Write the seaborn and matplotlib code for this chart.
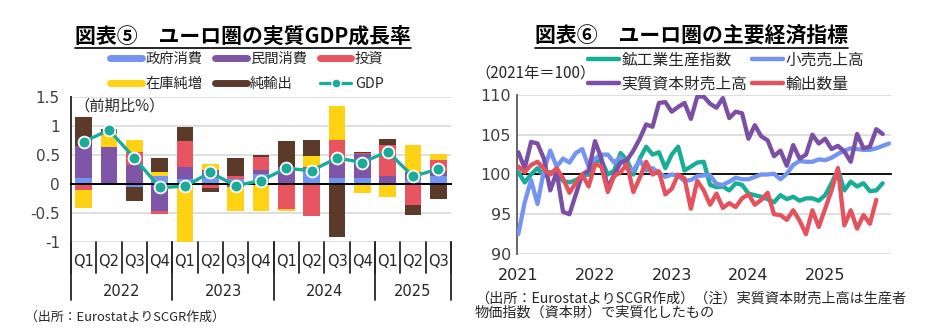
import numpy as np
import pandas as pd
import matplotlib
matplotlib.use("Agg")
import matplotlib.pyplot as plt
import seaborn as sns
from matplotlib.lines import Line2D
from matplotlib.transforms import blended_transform_factory
from matplotlib.ticker import FuncFormatter

# ---------------- data: left chart (contributions, % q/q) ----------------
quarter_labels = ["Q1", "Q2", "Q3", "Q4", "Q1", "Q2", "Q3", "Q4",
                  "Q1", "Q2", "Q3", "Q4", "Q1", "Q2", "Q3"]
year_labels = ["2022", "2023", "2024", "2025"]
quarters_per_year = [4, 4, 4, 3]
gov_cons = [0.10, 0.00, -0.05, 0.13, 0.09, 0.10, 0.09, 0.18, 0.00, 0.20, 0.10, 0.10, 0.00, 0.075, 0.13]
priv_cons = [0.56, 0.64, 0.32, -0.47, 0.21, 0.14, -0.05, 0.07, 0.30, 0.10, 0.27, 0.42, 0.14, 0.125, 0.10]
investment = [-0.10, 0.00, 0.24, -0.05, 0.45, -0.07, 0.05, 0.21, -0.43, -0.55, 0.39, 0.02, 0.54, -0.37, 0.19]
inventories = [-0.32, 0.24, 0.20, 0.07, -1.02, 0.10, -0.41, -0.47, -0.04, 0.19, 0.59, -0.16, -0.23, 0.48, 0.09]
net_exports = [0.49, 0.06, -0.24, 0.25, 0.23, -0.07, 0.30, 0.04, 0.44, 0.27, -0.91, 0.01, 0.10, -0.17, -0.26]
gdp = [0.73, 0.93, 0.45, -0.06, -0.04, 0.20, -0.03, 0.06, 0.27, 0.23, 0.45, 0.37, 0.56, 0.13, 0.26]

comp_names = ["政府消費", "民間消費", "投資", "在庫純増", "純輸出"]
comp_colors = ["#7394f0", "#7f55a8", "#e8545f", "#ffd214", "#5c3a29"]
gdp_color = "#1aab9b"

# ---------------- data: right chart (2021 = 100, monthly from Jan 2021) ----------------
year_ticks = ["2021", "2022", "2023", "2024", "2025"]
industrial_prod = [100.3, 99.0, 100.0, 100.8, 99.8, 100.3, 100.0, 99.2, 99.0, 99.3, 99.8, 100.0,
                   101.5, 101.8, 100.0, 100.5, 102.7, 101.8, 100.0, 102.0, 103.5, 102.5, 102.8, 100.8,
                   102.5, 103.5, 100.5, 101.0, 101.5, 101.6, 98.7, 98.4, 98.5, 98.0, 98.9, 98.7,
                   97.6, 97.4, 97.2, 96.9, 96.5, 97.4, 96.9, 97.2, 96.7, 97.0, 97.0, 96.7,
                   97.4, 98.9, 100.6, 98.0, 99.1, 98.5, 98.9, 97.9, 98.0, 98.9]
retail_sales = [92.5, 96.5, 99.3, 96.3, 100.5, 103.0, 101.0, 102.0, 101.5, 102.7, 103.2, 101.0,
                102.0, 102.5, 102.5, 101.5, 102.2, 100.8, 100.5, 101.8, 100.5, 100.8, 100.2, 99.7,
                100.0, 99.8, 99.2, 99.3, 99.8, 99.9, 99.9, 98.8, 98.7, 99.1, 99.6, 99.4,
                99.4, 99.7, 100.0, 100.0, 100.1, 99.4, 100.1, 101.2, 101.7, 101.6, 101.6, 101.9,
                101.8, 102.1, 102.6, 103.0, 103.3, 103.2, 103.1, 103.1, 103.3, 103.6, 103.9]
capital_goods = [102.8, 100.8, 104.1, 103.9, 102.0, 98.0, 100.3, 95.3, 95.0, 97.5, 100.0, 100.5,
                 104.2, 102.0, 98.3, 100.0, 101.5, 101.8, 103.0, 104.5, 106.3, 106.0, 109.0, 109.1,
                 107.9, 108.5, 109.0, 107.0, 109.8, 109.8, 108.9, 108.4, 109.6, 107.1, 107.9, 107.7,
                 104.5, 106.2, 104.8, 104.3, 102.3, 103.0, 101.1, 103.7, 102.0, 102.5, 105.0, 103.9,
                 104.5, 103.2, 103.6, 102.9, 101.6, 105.1, 103.3, 103.5, 105.7, 105.1]
export_volume = [101.0, 100.3, 101.2, 101.6, 100.7, 100.0, 100.8, 99.5, 97.7, 99.0, 100.0, 98.5,
                 101.3, 101.0, 97.8, 99.8, 100.3, 101.3, 97.8, 99.6, 101.6, 100.0, 100.4, 97.5,
                 98.2, 100.0, 99.5, 95.7, 99.2, 98.0, 96.2, 97.6, 95.8, 96.4, 95.9, 97.0,
                 97.5, 96.2, 96.8, 97.7, 95.0, 94.9, 94.3, 95.5, 94.2, 92.5, 95.5, 93.4,
                 95.7, 98.0, 100.8, 93.6, 95.5, 93.2, 94.9, 93.8, 96.8]

series_names = ["鉱工業生産指数", "小売売上高", "実質資本財売上高", "輸出数量"]
series_values = [industrial_prod, retail_sales, capital_goods, export_volume]
series_colors = ["#19ad98", "#7394f0", "#7b4fa6", "#e3525d"]

# ---------------- style ----------------
sns.set_style("white")
plt.rcParams["font.family"] = ["Noto Sans CJK JP", "DejaVu Sans"]
plt.rcParams["axes.unicode_minus"] = False

W, H = 950, 328
fig = plt.figure(figsize=(W / 100, H / 100), dpi=100)


def fx(px):
    return px / W


def fy(py):
    return 1 - py / H


txt_col = "#262626"
grid_col = "#d9d9d9"

# ================= LEFT CHART =================
axL = fig.add_axes([fx(71), fy(242), fx(451) - fx(71), fy(97) - fy(242)])
n = len(gdp)
x = np.arange(n)
comps = [np.array(c, dtype=float) for c in (gov_cons, priv_cons, investment, inventories, net_exports)]
pos_base = np.zeros(n)
neg_base = np.zeros(n)
for vals, col in zip(comps, comp_colors):
    pos = np.where(vals > 0, vals, 0.0)
    neg = np.where(vals < 0, vals, 0.0)
    axL.bar(x, pos, bottom=pos_base, width=0.66, color=col, zorder=2, linewidth=0)
    axL.bar(x, neg, bottom=neg_base, width=0.66, color=col, zorder=2, linewidth=0)
    pos_base += pos
    neg_base += neg

df_gdp = pd.DataFrame({"q": x, "gdp": gdp})
sns.lineplot(data=df_gdp, x="q", y="gdp", ax=axL, color=gdp_color, lw=2.4, zorder=4,
             marker="o", markersize=8.5, markerfacecolor=gdp_color, markeredgecolor="white",
             markeredgewidth=1.3)

axL.set_xlim(-0.5, n - 0.5)
axL.set_ylim(-1, 1.5)
axL.set_yticks([-1, -0.5, 0, 0.5, 1, 1.5])
axL.yaxis.set_major_formatter(FuncFormatter(lambda v, p: f"{v:g}"))
axL.grid(axis="y", color=grid_col, lw=1.2)
axL.grid(axis="x", visible=False)
axL.set_axisbelow(True)
axL.set_xlabel("")
axL.set_ylabel("")
for s in ("top", "right"):
    axL.spines[s].set_visible(False)
axL.spines["left"].set_color("#333333")
axL.spines["left"].set_linewidth(1.4)
axL.spines["bottom"].set_position(("data", 0))
axL.spines["bottom"].set_color("black")
axL.spines["bottom"].set_linewidth(1.4)
axL.spines["bottom"].set_zorder(3)
axL.set_xticks(np.arange(0.5, n - 0.5, 1.0))
axL.tick_params(axis="x", direction="in", length=5, width=1.3, color="black", labelbottom=False)
axL.tick_params(axis="y", direction="out", length=4, width=1.2, color="#333333",
                labelsize=11, labelcolor="#404040", labelfontfamily="DejaVu Sans", pad=4)

trL = blended_transform_factory(axL.transData, axL.transAxes)
qh = -(273 - 242) / 145
yh = -(300 - 242) / 145
for b in np.arange(-0.5, n, 1.0):
    axL.plot([b, b], [0, qh], transform=trL, color="#262626", lw=1.3, clip_on=False)
for i, q in enumerate(quarter_labels):
    axL.text(i, -(262 - 242) / 145, q, transform=trL, ha="center", va="center",
             fontsize=10.5, color=txt_col, family="DejaVu Sans")
start = 0
for yl, cnt in zip(year_labels, quarters_per_year):
    axL.plot([start - 0.5, start - 0.5], [0, yh], transform=trL, color="#262626", lw=1.3, clip_on=False)
    axL.text(start + cnt / 2 - 0.5, -(291 - 242) / 145, yl, transform=trL, ha="center", va="center",
             fontsize=10.5, color=txt_col, family="DejaVu Sans")
    start += cnt
axL.plot([n - 0.5, n - 0.5], [0, yh], transform=trL, color="#262626", lw=1.3, clip_on=False)

axL.text(0.01, 0.935, "（前期比%）", transform=axL.transAxes, ha="left", va="center",
         fontsize=11, color=txt_col)

handlesL = [Line2D([0], [0], color=c, lw=5) for c in comp_colors]
handlesL.append(Line2D([0], [0], color=gdp_color, lw=2.4, marker="o", markersize=6.5,
                       markerfacecolor=gdp_color, markeredgecolor="white", markeredgewidth=1.0))
labelsL = comp_names + ["GDP"]
order = [0, 3, 1, 4, 2, 5]
fig.legend([handlesL[i] for i in order], [labelsL[i] for i in order], ncol=3, frameon=False,
           loc="center", bbox_to_anchor=(fx(247), fy(71.5)), fontsize=10.3,
           handlelength=2.2, handletextpad=0.25, columnspacing=0.9, labelspacing=0.78,
           borderpad=0, labelcolor=txt_col)

titleL = fig.text(fx(243), fy(36), "図表⑤　ユーロ圏の実質GDP成長率", ha="center", va="center",
                  fontsize=15, fontweight="bold", color="black",
                  family=["Noto Sans CJK JP", "DejaVu Sans"])
fig.text(fx(25), fy(317), "（出所：EurostatよりSCGR作成）", ha="left", va="center",
         fontsize=9.3, color=txt_col)

# ================= RIGHT CHART =================
axR = fig.add_axes([fx(516.7), fy(254), fx(891) - fx(516.7), fy(95) - fy(254)])
for name, vals, col in zip(series_names, series_values, series_colors):
    dfm = pd.DataFrame({"m": np.arange(len(vals)), "v": vals})
    sns.lineplot(data=dfm, x="m", y="v", ax=axR, color=col, lw=3.1, zorder=3)
axR.set_xlim(-0.25, 58.3)
axR.set_ylim(90, 110)
axR.set_yticks([90, 95, 100, 105, 110])
axR.grid(axis="y", color=grid_col, lw=1.2)
axR.grid(axis="x", visible=False)
axR.set_axisbelow(True)
axR.set_xlabel("")
axR.set_ylabel("")
for s in ("top", "right"):
    axR.spines[s].set_visible(False)
axR.spines["left"].set_color("#595959")
axR.spines["left"].set_linewidth(1.3)
axR.spines["bottom"].set_position(("data", 100))
axR.spines["bottom"].set_color("black")
axR.spines["bottom"].set_linewidth(1.3)
axR.spines["bottom"].set_zorder(2)
axR.set_xticks([11.5, 23.5, 35.5, 47.5])
axR.tick_params(axis="x", direction="in", length=5, width=1.2, color="black", labelbottom=False)
axR.tick_params(axis="y", length=0, labelsize=11.5, labelcolor="#404040",
                labelfontfamily="DejaVu Sans", pad=4)
trR = blended_transform_factory(axR.transData, axR.transAxes)
for i, yl in enumerate(year_ticks):
    axR.text(i * 12, -(276 - 254) / 159, yl, transform=trR, ha="center", va="center",
             fontsize=11.5, color=txt_col, family="DejaVu Sans")

handlesR = [Line2D([0], [0], color=c, lw=3.2) for c in series_colors]
orderR = [0, 2, 1, 3]
fig.legend([handlesR[i] for i in orderR], [series_names[i] for i in orderR], ncol=2, frameon=False,
           loc="center", bbox_to_anchor=(fx(726), fy(72)), fontsize=11.3,
           handlelength=2.0, handletextpad=0.15, columnspacing=0.3, labelspacing=0.48,
           borderpad=0, labelcolor=txt_col)

fig.text(fx(475), fy(73), "（2021年＝100）", ha="left", va="center", fontsize=11, color=txt_col)
titleR = fig.text(fx(691.5), fy(36), "図表⑥　ユーロ圏の主要経済指標", ha="center", va="center",
                  fontsize=15, fontweight="bold", color="black",
                  family=["Noto Sans CJK JP", "DejaVu Sans"])
fig.text(fx(475), fy(299), "（出所：EurostatよりSCGR作成）（注）実質資本財売上高は生産者",
         ha="left", va="center", fontsize=10.2, color=txt_col)
fig.text(fx(475), fy(313), "物価指数（資本財）で実質化したもの",
         ha="left", va="center", fontsize=10.2, color=txt_col)

# underline the titles
fig.canvas.draw()
inv = fig.transFigure.inverted()
for t in (titleL, titleR):
    bb = t.get_window_extent()
    (x0, y0), (x1, _) = inv.transform([(bb.x0, bb.y0), (bb.x1, bb.y1)])
    fig.add_artist(Line2D([x0, x1], [y0 - 1.5 / H, y0 - 1.5 / H], transform=fig.transFigure,
                          color="black", lw=1.2))

fig.savefig("out.png", dpi=100, facecolor="white")
